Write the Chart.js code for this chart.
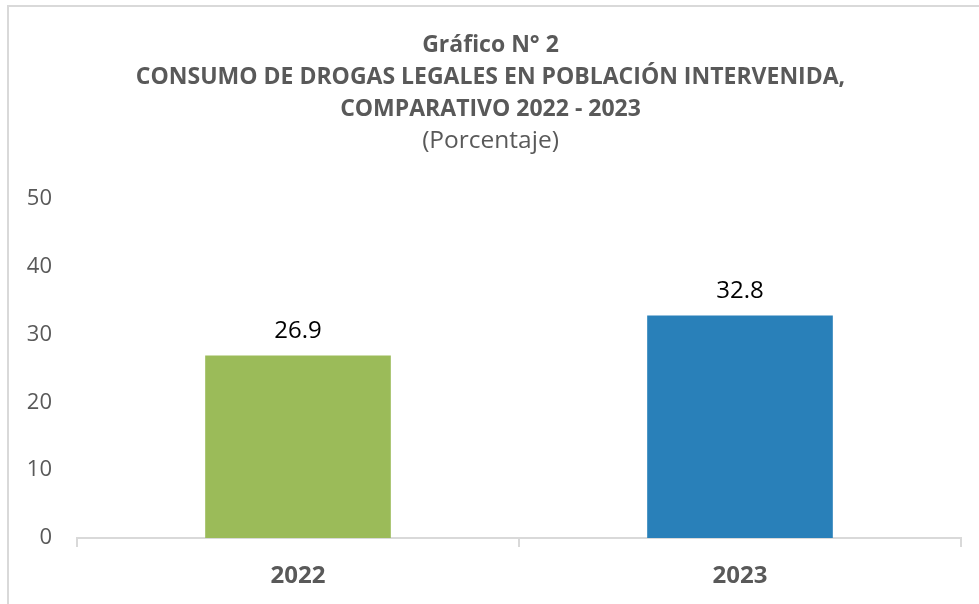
<!DOCTYPE html>
<html>
<head>
<meta charset="utf-8">
<script src="https://cdn.jsdelivr.net/npm/chart.js@4.4.1/dist/chart.umd.min.js"></script>
<style>
  html, body { margin: 0; padding: 0; background: #fff; }
  #wrap { width: 979px; height: 604px; position: relative; }
</style>
</head>
<body>
<div id="wrap"><canvas id="myChart" width="979" height="604"></canvas></div>
<script>
// Datos del gráfico
const categories = ['2022', '2023'];
const values = [26.9, 32.8];
const barColors = ['#9BBB59', '#2980B9'];
const titleLines = ['Gráfico N° 2', 'CONSUMO DE DROGAS LEGALES EN POBLACIÓN INTERVENIDA,', 'COMPARATIVO 2022 - 2023'];
const subtitleText = '(Porcentaje)';

const grey = '#595959';
const lineGrey = '#d9d9d9';

// Marco del gráfico (solo borde superior e izquierdo visibles)
const framePlugin = {
  id: 'frame',
  beforeDraw(chart) {
    const ctx = chart.ctx;
    ctx.save();
    ctx.strokeStyle = lineGrey;
    ctx.lineWidth = 2;
    ctx.beginPath();
    ctx.moveTo(8, chart.height);
    ctx.lineTo(8, 6);
    ctx.lineTo(chart.width, 6);
    ctx.stroke();
    ctx.restore();
  }
};

// Etiquetas de valor encima de cada barra
const valueLabels = {
  id: 'valueLabels',
  afterDatasetsDraw(chart) {
    const ctx = chart.ctx;
    const meta = chart.getDatasetMeta(0);
    ctx.save();
    ctx.font = '24px "Open Sans"';
    ctx.fillStyle = '#000';
    ctx.textAlign = 'center';
    ctx.textBaseline = 'alphabetic';
    meta.data.forEach((bar, i) => {
      ctx.fillText(values[i].toFixed(1), bar.x, bar.y - 18);
    });
    ctx.restore();
  }
};

new Chart(document.getElementById('myChart'), {
  type: 'bar',
  data: {
    labels: categories,
    datasets: [{
      data: values,
      backgroundColor: barColors,
      borderWidth: 0,
      categoryPercentage: 1,
      barPercentage: 0.42
    }]
  },
  options: {
    responsive: false,
    animation: false,
    layout: {
      padding: { left: 20, right: 18, top: 0, bottom: 0 }
    },
    scales: {
      x: {
        grid: {
          drawOnChartArea: false,
          drawTicks: true,
          tickLength: 9,
          color: lineGrey,
          lineWidth: 2
        },
        border: { color: lineGrey, width: 2 },
        ticks: {
          color: grey,
          padding: 15,
          font: { family: 'Open Sans', size: 24, weight: 'bold' }
        },
        afterFit(scale) {
          scale.height = 66;
        }
      },
      y: {
        min: 0,
        max: 50,
        grid: { display: false, drawTicks: false },
        border: { display: false },
        ticks: {
          stepSize: 10,
          color: grey,
          padding: 25,
          font: { family: 'Open Sans', size: 22 }
        },
        afterFit(scale) {
          scale.width = 57;
        }
      }
    },
    plugins: {
      legend: { display: false },
      tooltip: { enabled: false },
      title: {
        display: true,
        text: titleLines,
        color: grey,
        font: { family: 'Open Sans', size: 23, weight: 'bold', lineHeight: 32 / 23 },
        padding: { top: 29, bottom: 0 }
      },
      subtitle: {
        display: true,
        text: subtitleText,
        color: grey,
        font: { family: 'Open Sans', size: 24.5, lineHeight: 32 / 24.5 },
        padding: { top: 0, bottom: 42 }
      }
    }
  },
  plugins: [framePlugin, valueLabels]
});
</script>
</body>
</html>
